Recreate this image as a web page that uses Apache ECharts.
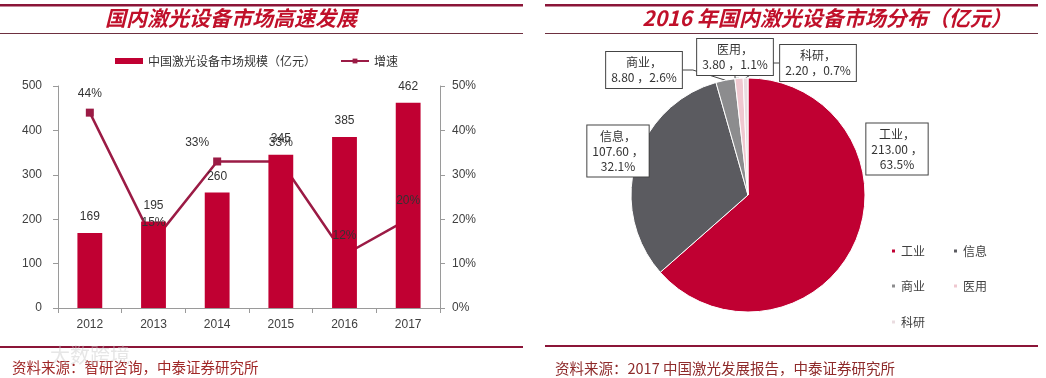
<!DOCTYPE html>
<html><head><meta charset="utf-8">
<script src="https://cdn.jsdelivr.net/npm/echarts@6/dist/echarts.min.js"></script>
<style>html,body{margin:0;padding:0;background:#fff}#c{width:1046px;height:378px}</style>
</head><body><div id="c"></div>
<script>
// ---- data ----
const years = ['2012', '2013', '2014', '2015', '2016', '2017'];
const marketSize = [169, 195, 260, 345, 385, 462];
const growth = [44, 15, 33, 33, 12, 20];
const sizeTicks = [0, 100, 200, 300, 400, 500];
const growthTicks = [0, 10, 20, 30, 40, 50];
const pieNames = ['工业', '信息', '商业', '医用', '科研'];
const pieValues = [213.00, 107.60, 8.80, 3.80, 2.20];

// ---- style ----
const pieColors = ['#C00032', '#5B5B60', '#8C8C8E', '#EFC8D0', '#EADCE0'];
const pieLabelPos = [[897, 149], [618, 151], [644, 70], [735, 57], [818, 63]];
const growthLabelOffset = [[0, 0], [0, 0], [-20, 0], [0, 0], [0, 0], [0, 0]];
const cjk = '"Noto Sans CJK SC", sans-serif';
const sans = '"Liberation Sans", Arial, sans-serif';
const maroon = '#8B1538';

const chart = echarts.init(document.getElementById('c'), null, { renderer: 'canvas' });

const line = (x, y, w, h, c) => ({ type: 'rect', shape: { x, y, width: w, height: h }, style: { fill: c }, silent: true });
const txt = (x, y, t, o) => ({ type: 'text', x, y, style: Object.assign({ text: t, fontFamily: cjk }, o), silent: true });

const option = {
  animation: false,
  backgroundColor: '#fff',
  grid: { left: 58, right: 606, top: 86, bottom: 70, containLabel: false },
  xAxis: {
    type: 'category', data: years,
    axisLine: { lineStyle: { color: '#9a9a9a' } },
    axisTick: { show: true, length: 5, lineStyle: { color: '#9a9a9a' } },
    axisLabel: { color: '#404040', fontSize: 12, fontFamily: sans, margin: 11 }
  },
  yAxis: [
    {
      type: 'value', min: sizeTicks[0], max: sizeTicks[sizeTicks.length - 1], interval: sizeTicks[1] - sizeTicks[0],
      axisLine: { show: true, lineStyle: { color: '#9a9a9a' } },
      axisTick: { show: true, length: 5, lineStyle: { color: '#9a9a9a' } },
      splitLine: { show: false },
      axisLabel: { color: '#404040', fontSize: 12, fontFamily: sans, margin: 16 }
    },
    {
      type: 'value', position: 'right', min: growthTicks[0], max: growthTicks[growthTicks.length - 1], interval: growthTicks[1] - growthTicks[0],
      axisLine: { show: true, lineStyle: { color: '#9a9a9a' } },
      axisTick: { show: true, length: 5, lineStyle: { color: '#9a9a9a' } },
      splitLine: { show: false },
      axisLabel: { color: '#404040', fontSize: 12, fontFamily: sans, margin: 12, formatter: '{value}%' }
    }
  ],
  legend: [
    {
      data: [{ name: '中国激光设备市场规模（亿元）', icon: 'rect' }, { name: '增速' }],
      left: 110, top: 50, itemWidth: 28, itemHeight: 6, itemGap: 24,
      textStyle: { fontSize: 12, color: '#333', fontFamily: cjk }
    },
    { data: [pieNames[0], pieNames[1]], left: 885, top: 240, icon: 'rect', itemWidth: 5, itemHeight: 5, itemGap: 27, textStyle: { fontSize: 12, color: '#404040', fontFamily: cjk } },
    { data: [pieNames[2], pieNames[3]], left: 885, top: 275, icon: 'rect', itemWidth: 5, itemHeight: 5, itemGap: 27, textStyle: { fontSize: 12, color: '#404040', fontFamily: cjk } },
    { data: [pieNames[4]], left: 885, top: 311, icon: 'rect', itemWidth: 5, itemHeight: 5, itemGap: 27, textStyle: { fontSize: 12, color: '#404040', fontFamily: cjk } }
  ],
  series: [
    {
      name: '增速', type: 'line', yAxisIndex: 1, data: growth, z: 2,
      color: '#9B1B45', lineStyle: { width: 2.5, color: '#9B1B45' },
      symbol: 'rect', symbolSize: 8, itemStyle: { color: '#9B1B45' },
      label: { show: false }
    },
    {
      name: '中国激光设备市场规模（亿元）', type: 'bar', data: marketSize, barWidth: '39%', z: 3,
      itemStyle: { color: '#C00032' },
      label: { show: true, position: 'top', distance: 10, color: '#333', fontSize: 12, fontFamily: sans }
    },
    {
      name: 'growthLabels', type: 'line', yAxisIndex: 1, z: 4,
      data: growth.map((v, i) => ({ value: v, label: { offset: growthLabelOffset[i] } })),
      lineStyle: { opacity: 0 }, symbol: 'rect', symbolSize: 8, showSymbol: true, silent: true,
      itemStyle: { color: 'rgba(0,0,0,0)' },
      label: { show: true, position: 'top', distance: 9, color: '#333', fontSize: 12, fontFamily: sans, formatter: '{c}%' }
    },
    {
      name: 'pie', type: 'pie', center: [748, 195], radius: 117, startAngle: 90, clockwise: true,
      percentPrecision: 1, avoidLabelOverlap: false,
      data: pieNames.map((n, i) => ({
        name: n, value: pieValues[i], itemStyle: { color: pieColors[i] },
        labelLine: { show: i >= 2 }
      })),
      itemStyle: { borderColor: '#fff', borderWidth: 1 },
      label: {
        show: true, fontSize: 12, color: '#333', fontFamily: cjk, lineHeight: 15,
        backgroundColor: '#fff', borderColor: '#444', borderWidth: 1, padding: [3, 5], align: 'center',
        formatter: p => p.dataIndex < 2
          ? `${p.name}，\n${p.value.toFixed(2)} ，\n${p.percent}%`
          : `${p.name}，\n${p.value.toFixed(2)} ，${p.percent}%`
      },
      labelLine: { lineStyle: { color: '#444', width: 1 }, length: 10, length2: 10 },
      labelLayout: p => ({ x: pieLabelPos[p.dataIndex][0], y: pieLabelPos[p.dataIndex][1], align: 'center', verticalAlign: 'middle' }),
      emphasis: { disabled: true }
    }
  ],
  graphic: [
    line(0, 4, 523, 2.5, maroon), line(545, 4, 493, 2.5, maroon),
    line(0, 33, 523, 1, '#6E3040'), line(545, 33, 493, 1, '#6E3040'),
    line(0, 346, 523, 2, maroon), line(545, 345, 493, 2, maroon),
    txt(231, 18, '国内激光设备市场高速发展', { fontSize: 21, fontWeight: 'bold', fontStyle: 'italic', fill: '#C0102A', align: 'center', verticalAlign: 'middle' }),
    txt(827, 18, '2016 年国内激光设备市场分布（亿元）', { fontSize: 21, fontWeight: 'bold', fontStyle: 'italic', fill: '#C0102A', align: 'center', verticalAlign: 'middle' }),
    txt(12, 367, '资料来源：智研咨询，中泰证券研究所', { fontSize: 14.5, fill: '#A02828', verticalAlign: 'middle' }),
    txt(555, 368, '资料来源：2017 中国激光发展报告，中泰证券研究所', { fontSize: 14.5, fill: '#8E2A2A', verticalAlign: 'middle' }),
    txt(50, 355, '大数跨境', { fontSize: 20, fill: 'rgba(200,200,200,0.45)', verticalAlign: 'middle' })
  ]
};
chart.setOption(option);
</script>
</body></html>
